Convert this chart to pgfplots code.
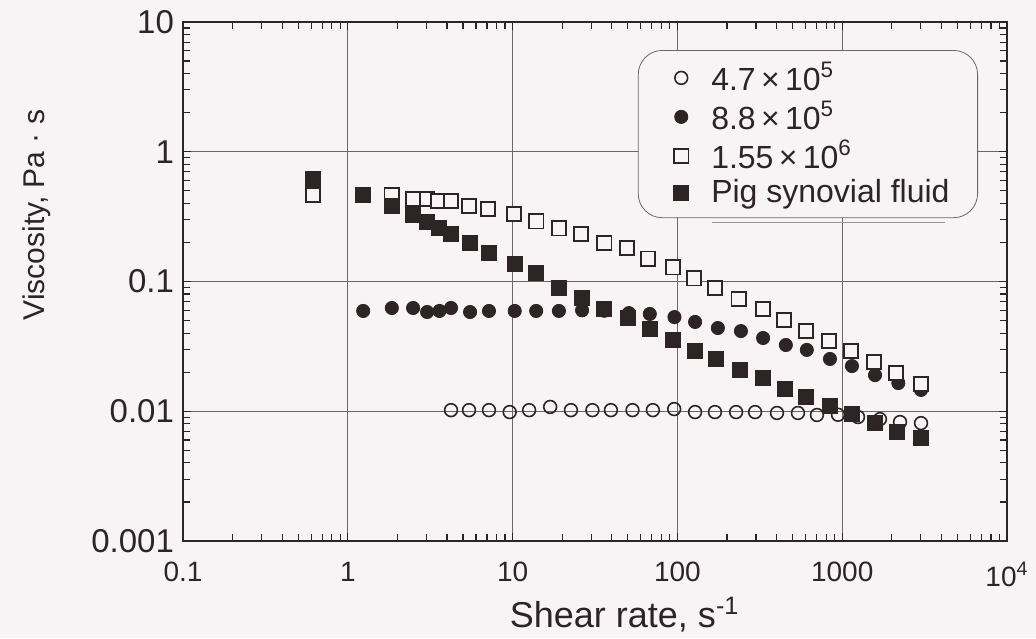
\documentclass[border=0pt]{standalone}
\usepackage{fontspec}
\setmainfont{Liberation Sans}
\usepackage{pgfplots}
\pgfplotsset{compat=1.18}
\definecolor{bg}{RGB}{248,244,245}
\definecolor{ink}{RGB}{45,36,38}
\definecolor{gridc}{RGB}{110,100,102}

% 4.7x10^5
\pgfplotstableread{
x y
4.23 0.0102
5.44 0.0102
7.19 0.0102
9.6 0.00986
12.6 0.0102
16.9 0.0108
22.6 0.0102
30.5 0.0102
39.5 0.0102
53.4 0.0102
71 0.0102
95.6 0.0104
128 0.00986
169 0.00986
227 0.00986
296 0.00986
402 0.0097
539 0.0097
703 0.00936
943 0.0094
1247 0.00903
1695 0.0087
2243 0.00826
3008 0.0081
}\lowmw
% 8.8x10^5
\pgfplotstableread{
x y
1.24 0.0593
1.85 0.0625
2.49 0.0625
3.03 0.0582
3.6 0.0593
4.23 0.0625
5.52 0.0582
7.19 0.0593
10.3 0.0593
13.9 0.0593
19.1 0.0593
26.4 0.060
36 0.0595
50.8 0.0571
68 0.0562
96 0.0532
128 0.0488
176 0.0438
243 0.0415
331 0.0367
455 0.0324
610 0.0297
843 0.0253
1146 0.0223
1581 0.0190
2190 0.0165
3008 0.0146
}\midmw
% 1.55x10^6
\pgfplotstableread{
x y
0.615 0.464
1.24 0.464
1.85 0.464
2.49 0.433
3.03 0.433
3.53 0.417
4.23 0.417
5.44 0.382
7.09 0.362
10.2 0.331
13.9 0.292
19.1 0.258
26 0.232
36 0.198
49.4 0.181
66.3 0.150
94 0.129
126 0.106
169 0.089
236 0.0733
331 0.0614
443 0.0505
603 0.0415
832 0.0348
1130 0.0291
1560 0.0240
2120 0.0197
3008 0.0162
}\highmw
% pig synovial fluid
\pgfplotstableread{
x y
0.615 0.62
1.24 0.464
1.85 0.382
2.49 0.326
3.03 0.288
3.58 0.258
4.23 0.232
5.52 0.198
7.19 0.166
10.3 0.136
13.9 0.116
19.1 0.089
26.4 0.0746
35.9 0.0614
50.1 0.0524
68.2 0.0431
94 0.0354
128 0.0291
171 0.0253
240 0.0208
331 0.0180
450 0.0148
603 0.0129
843 0.0110
1146 0.00953
1581 0.0081
2150 0.0069
3008 0.0062
}\pig

\begin{document}
\begin{tikzpicture}
\path[use as bounding box, fill=bg] (-91.5pt,-48.5pt) rectangle (426.5pt,270.5pt);
\begin{axis}[
    at={(0,0)}, anchor=south west,
    scale only axis,
    width=412pt, height=259.5pt,
    xmode=log, ymode=log,
    xmin=0.1, xmax=10000,
    ymin=0.001, ymax=10,
    xtick={0.1,1,10,100,1000,10000},
    xticklabels={0.1,1,10,100,1000,10\textsuperscript{4}},
    minor xtick={0.2,0.3,0.4,0.5,0.6,0.7,0.8,0.9,2,3,4,5,6,7,8,9,20,30,40,50,60,70,80,90,200,300,400,500,600,700,800,900,2000,3000,4000,5000,6000,7000,8000,9000},
    ytick={0.001,0.01,0.1,1,10},
    yticklabels={0.001,0.01,0.1,1,10},
    minor ytick={0.002,0.003,0.004,0.005,0.006,0.007,0.008,0.009,0.02,0.03,0.04,0.05,0.06,0.07,0.08,0.09,0.2,0.3,0.4,0.5,0.6,0.7,0.8,0.9,2,3,4,5,6,7,8,9},
    tick align=inside,
    major tick length=4pt,
    minor tick length=3.5pt,
    every tick/.style={ink, line width=0.6pt},
    axis line style={ink, line width=1pt},
    xmajorgrids, ymajorgrids,
    grid style={gridc, line width=0.5pt},
    xticklabel style={text=ink, font=\fontsize{14}{16}\selectfont, yshift=-7pt},
    yticklabel style={text=ink, font=\fontsize{16.5}{18}\selectfont, xshift=-1pt},
    xlabel={Shear rate, s\textsuperscript{-1}},
    ylabel={Viscosity, Pa · s},
    xlabel style={at={(axis description cs:0.536,0)}, anchor=base, yshift=-43pt,
        text=ink, font=\fontsize{18}{20}\selectfont},
    ylabel style={at={(axis description cs:-0.1772,0.628)}, anchor=center,
        text=ink, font=\fontsize{15}{17}\selectfont},
    legend image code/.code={%
        \path[draw=none] (0pt,0pt) -- (22.5pt,0pt);
        \draw[#1, only marks] plot coordinates {(9.5pt,0pt)};},
    legend style={at={(rel axis cs:0.552,0.946)}, anchor=north west,
        draw=gridc, rounded corners=12pt, fill=bg, text=ink,
        font=\fontsize{16}{17}\selectfont, inner xsep=12pt, inner ysep=4pt},
    legend cell align=left,
]
\addplot[only marks, mark=o, mark size=3.2pt, mark options={draw=ink, fill=bg, line width=0.8pt}] table {\lowmw};
\addplot[only marks, mark=*, mark size=3.3pt, mark options={draw=ink, fill=ink}] table {\midmw};
\addplot[only marks, mark=square*, mark size=3.6pt, mark options={draw=ink, fill=bg, line width=0.8pt}] table {\highmw};
\addplot[only marks, mark=square*, mark size=3.7pt, mark options={draw=ink, fill=ink}] table {\pig};
\legend{4.7\,×\,10\textsuperscript{5}, 8.8\,×\,10\textsuperscript{5}, 1.55\,×\,10\textsuperscript{6}, Pig synovial fluid}
\draw[gridc!70, line width=0.5pt] (rel axis cs:0.642,0.614) -- (rel axis cs:0.925,0.614);
\end{axis}
\end{tikzpicture}
\end{document}
